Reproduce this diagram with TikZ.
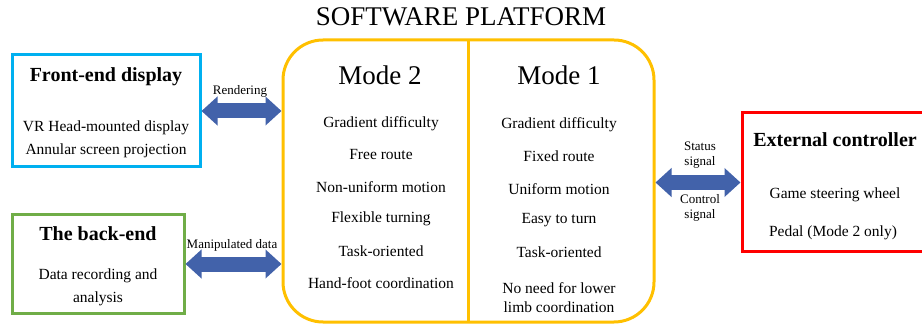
\documentclass[tikz,border=0pt]{standalone}
\usepackage{fontspec}
\setmainfont{Liberation Serif}
\usetikzlibrary{arrows.meta}
\definecolor{fecyan}{HTML}{00B0F0}
\definecolor{begreen}{HTML}{70AD47}
\definecolor{ecred}{HTML}{FF0000}
\definecolor{platyellow}{HTML}{FFC000}
\definecolor{arrowblue}{HTML}{4262AA}
\tikzset{
  box/.style={draw=#1, line width=3pt, fill=white, inner sep=0pt},
  boxtitle/.style={font=\fontsize{20}{22}\selectfont\bfseries, inner sep=0pt, anchor=center},
  item/.style={font=\fontsize{15.5}{17}\selectfont, inner sep=0pt, anchor=center},
  modetitle/.style={font=\fontsize{27}{29}\selectfont, inner sep=0pt, anchor=center},
  lbl/.style={font=\fontsize{13}{15}\selectfont, inner sep=0pt, anchor=center},
  bigarrow/.style={draw=arrowblue, line width=15pt,
    {Triangle[width=28pt,length=16pt]}-{Triangle[width=28pt,length=16pt]}}
}
\begin{document}
\begin{tikzpicture}[x=1pt,y=-1pt]
\useasboundingbox (0,0) rectangle (922,326);
\clip (0,0) rectangle (922,326);
\fill[white] (0,0) rectangle (922,326);
% title
\node[font=\fontsize{27}{29}\selectfont, inner sep=0pt] (title) at (461,17) {SOFTWARE PLATFORM};
% boxes
\node[box=fecyan, minimum width=188pt, minimum height=112pt] (fe) at (106,111) {};
\node[box=begreen, minimum width=172pt, minimum height=98pt] (be) at (98,264) {};
\node[box=ecred, minimum width=190pt, minimum height=139pt] (ec) at (837,182.5) {};
\node[draw=platyellow, line width=3pt, rounded corners=40pt, minimum width=371pt, minimum height=282pt, inner sep=0pt] (plat) at (468.5,181) {};
\coordinate (divtop) at (468,40);
\coordinate (divbot) at (468,322);
\draw[platyellow, line width=3pt] (divtop) -- (divbot);
% front-end text
\node[boxtitle] (fet) at (106,77) {Front-end display};
\node[item] (fe1) at (106,128) {VR Head-mounted display};
\node[item] (fe2) at (106,151) {Annular screen projection};
% back-end text
\node[boxtitle] (bet) at (98,234) {The back-end};
\node[item] (be1) at (98,276) {Data recording and};
\node[item] (be2) at (98,299) {analysis};
% external controller text
\node[boxtitle] (ect) at (835,140) {External controller};
\node[item] (ec1) at (835,195) {Game steering wheel};
\node[item] (ec2) at (833,233) {Pedal (Mode 2 only)};
% Mode 2
\node[modetitle] (m2) at (380,75) {Mode 2};
\node[item] (m2a) at (381,124) {Gradient difficulty};
\node[item] (m2b) at (381,155) {Free route};
\node[item] (m2c) at (381,187) {Non-uniform motion};
\node[item] (m2d) at (381,219) {Flexible turning};
\node[item] (m2e) at (381,251) {Task-oriented};
\node[item] (m2f) at (381,283) {Hand-foot coordination};
% Mode 1
\node[modetitle] (m1) at (559,75) {Mode 1};
\node[item] (m1a) at (559,125) {Gradient difficulty};
\node[item] (m1b) at (559,156) {Fixed route};
\node[item] (m1c) at (559,189) {Uniform motion};
\node[item] (m1d) at (559,220) {Easy to turn};
\node[item] (m1e) at (559,252) {Task-oriented};
\node[item] (m1f) at (559,288) {No need for lower};
\node[item] (m1g) at (559,307) {limb coordination};
% arrows
\draw[bigarrow] (fe.east) -- (plat.west |- fe.east);
\draw[bigarrow] (be.east) -- (plat.west |- be.east);
\draw[bigarrow] (plat.east |- ec.west) -- (ec.west);
% arrow labels
\node[lbl] (lr) at (240,91) {Rendering};
\node[lbl] (lm) at (232,245) {Manipulated data};
\node[lbl, align=center] (ls) at (700,155) {Status\\signal};
\node[lbl, align=center] (lc) at (700,208) {Control\\signal};
\end{tikzpicture}
\end{document}
